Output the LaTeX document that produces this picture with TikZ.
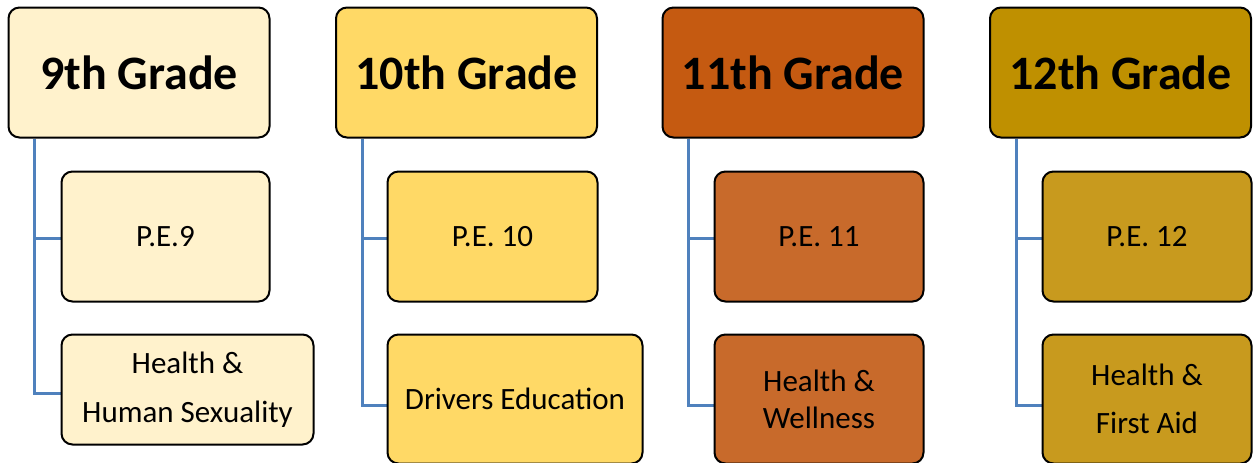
\documentclass[tikz,border=0pt]{standalone}
\usepackage{fontspec}
\setmainfont{Carlito}
\usetikzlibrary{backgrounds}
\definecolor{c9}{HTML}{FFF2CC}
\definecolor{c10}{HTML}{FFD966}
\definecolor{c11}{HTML}{C55A11}
\definecolor{c11b}{HTML}{C86A2B}
\definecolor{c12}{HTML}{BF9000}
\definecolor{c12b}{HTML}{C89A1E}
\definecolor{conn}{HTML}{4F81BD}
\tikzset{
  box/.style={draw=black, line width=2pt, rounded corners=11pt, inner sep=0pt, align=center},
  gradebox/.style={box, minimum width=261pt, minimum height=130pt, font=\bfseries\fontsize{48}{57}\selectfont},
  itembox/.style={box, font=\fontsize{31}{37}\selectfont},
  link/.style={draw=conn, line width=3pt}
}
\begin{document}
\begin{tikzpicture}[x=1pt,y=-1pt]
\useasboundingbox (0,0) rectangle (1254,463);
% column 1
\node[gradebox, fill=c9] (g9) at (139,72.5) {9th Grade};
\node[itembox, fill=c9, minimum width=208pt, minimum height=130pt] (a9) at (165.5,236.5) {P.E.9};
\node[itembox, fill=c9, minimum width=252pt, minimum height=110pt] (b9) at (187.5,389.5) {Health \&\\[12pt]Human Sexuality};
% column 2
\node[gradebox, fill=c10] (g10) at (466.5,72.5) {10th Grade};
\node[itembox, fill=c10, minimum width=210pt, minimum height=130pt] (a10) at (492.5,236.5) {P.E. 10};
\node[itembox, fill=c10, minimum width=255pt, minimum height=129pt] (b10) at (515,399) {Drivers Education};
% column 3
\node[gradebox, fill=c11] (g11) at (793,72.5) {11th Grade};
\node[itembox, fill=c11b, minimum width=209pt, minimum height=130pt] (a11) at (819,236.5) {P.E. 11};
\node[itembox, fill=c11b, minimum width=209pt, minimum height=129pt] (b11) at (819,399) {Health \&\\Wellness};
% column 4
\node[gradebox, fill=c12] (g12) at (1120.5,72.5) {12th Grade};
\node[itembox, fill=c12b, minimum width=209pt, minimum height=130pt] (a12) at (1147,236.5) {P.E. 12};
\node[itembox, fill=c12b, minimum width=209pt, minimum height=129pt] (b12) at (1147,399) {Health \&\\[11pt]First Aid};
% connectors
\begin{scope}[on background layer]
\foreach \g/\a/\b/\s in {g9/a9/b9/4, g10/a10/b10/6, g11/a11/b11/6, g12/a12/b12/6}{
  \draw[link] ([xshift=27pt]\g.south west) |- ([yshift=-1.5pt]\a.west);
  \draw[link] ([xshift=27pt]\g.south west) |- ([yshift=-\s pt]\b.west);
}
\end{scope}
\end{tikzpicture}
\end{document}
